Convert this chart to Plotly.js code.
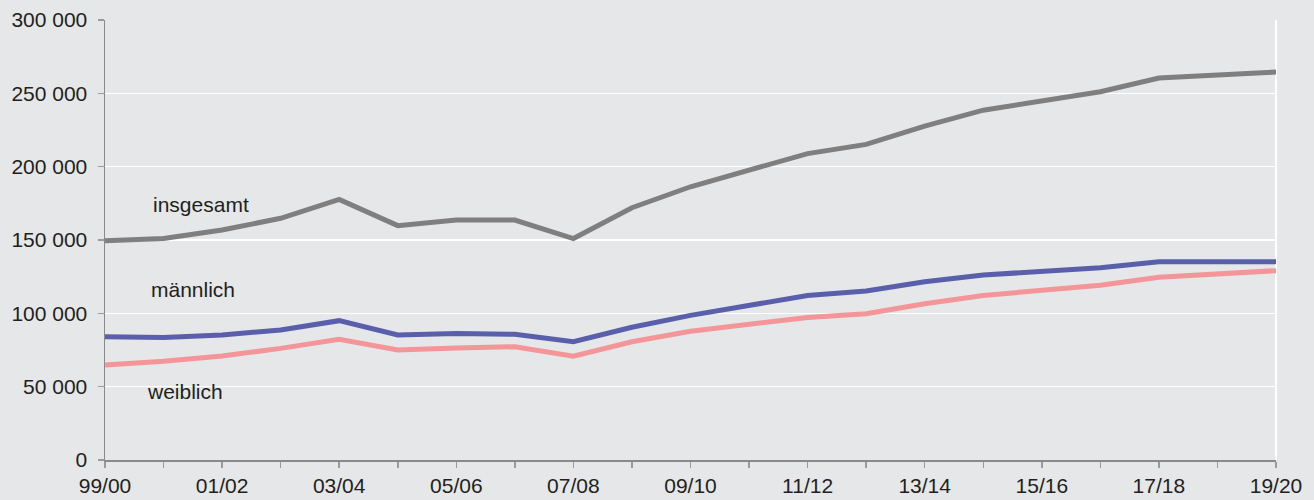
<!DOCTYPE html>
<html>
<head>
<meta charset="utf-8">
<script src="https://cdn.plot.ly/plotly-3.0.1.min.js"></script>
<style>html,body{margin:0;padding:0;background:#e6e7e8;}#chart{width:1314px;height:500px;}</style>
</head>
<body>
<div id="chart"></div>
<script>
const categories = ["99/00","00/01","01/02","02/03","03/04","04/05","05/06","06/07","07/08","08/09","09/10","10/11","11/12","12/13","13/14","14/15","15/16","16/17","17/18","18/19","19/20"];
const tickLabels = ["99/00","","01/02","","03/04","","05/06","","07/08","","09/10","","11/12","","13/14","","15/16","","17/18","","19/20"];
const insgesamt = [149500,151000,156800,164800,177700,159800,163600,163600,151000,172000,186300,197400,208900,215200,227700,238500,245000,251100,260400,262500,264500];
const maennlich = [84100,83600,85300,88600,95000,85200,86300,85700,80600,90500,98600,105400,112200,115200,121500,126100,128900,131100,135200,135300,135100];
const weiblich  = [64800,67400,70900,76100,82300,75000,76400,77200,70800,80600,87800,92500,97200,99700,106500,112200,115600,119200,124600,127100,129100];
const labels = [
  {text:"insgesamt", x:1.64, y:174000},
  {text:"männlich", x:1.50, y:116000},
  {text:"weiblich", x:1.37, y:46600}
];

const font = {family:"Liberation Sans, Arial, sans-serif", size:21, color:"#231f20"};
const idx = categories.map((c,i)=>i);
const mk = (y,color,name)=>({x:idx,y:y,type:"scatter",mode:"lines",name:name,line:{color:color,width:5},hoverinfo:"skip"});

const data = [
  mk(insgesamt,"#7f7f80","insgesamt"),
  mk(maennlich,"#5a5fab","männlich"),
  mk(weiblich,"#f4959a","weiblich")
];

const layout = {
  width:1314, height:500,
  paper_bgcolor:"#e6e7e8", plot_bgcolor:"#e6e7e8",
  margin:{l:105,r:38,t:20,b:40},
  showlegend:false,
  separators:", ",
  font:font,
  xaxis:{
    range:[0,20], tickmode:"array", tickvals:idx, ticktext:tickLabels,
    showgrid:false, zeroline:false, showline:true, linecolor:"#8a8a8a", linewidth:1.5,
    ticks:"outside", ticklen:6, tickcolor:"#9a9a9a", tickwidth:1.5,
    tickfont:font, fixedrange:true
  },
  yaxis:{
    range:[0,300000], tickmode:"linear", tick0:0, dtick:50000, tickformat:",d",
    showgrid:true, gridcolor:"#ffffff", gridwidth:1.5, zeroline:false,
    showline:true, linecolor:"#8a8a8a", linewidth:1.5,
    ticks:"outside", ticklen:6, tickcolor:"#9a9a9a", tickwidth:1.5,
    tickfont:font, ticklabelstandoff:6, fixedrange:true
  },
  shapes:[{type:"line", xref:"paper", yref:"paper", x0:1, x1:1, y0:0, y1:1, line:{color:"#ffffff", width:2}, layer:"below"}],
  annotations: labels.map(l=>({text:l.text, x:l.x, y:l.y, xref:"x", yref:"y", showarrow:false, font:font, xanchor:"center", yanchor:"middle"}))
};

Plotly.newPlot("chart", data, layout, {displayModeBar:false, staticPlot:true});
</script>
</body>
</html>
